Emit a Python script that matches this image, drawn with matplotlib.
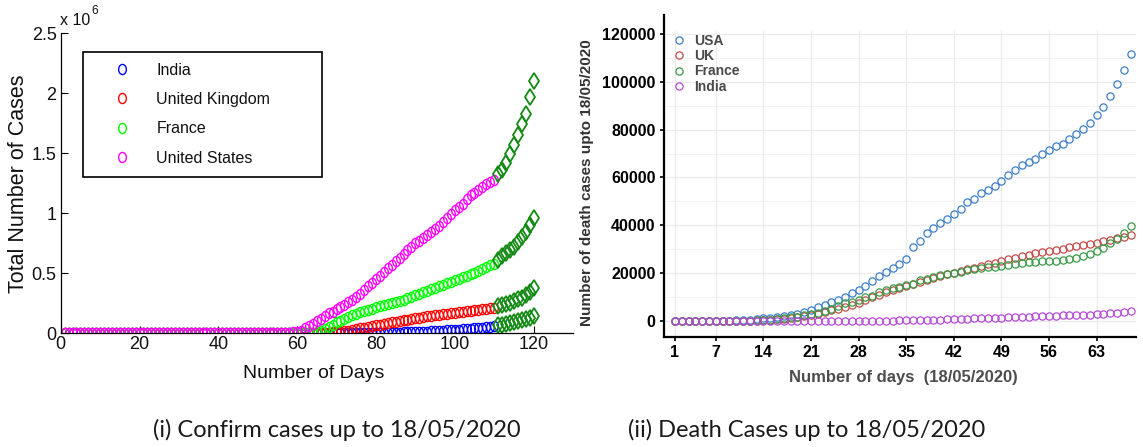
import numpy as np
import matplotlib
matplotlib.use("Agg")
import matplotlib.pyplot as plt
from matplotlib.path import Path
from matplotlib.transforms import Affine2D

# ---- left panel: confirmed cases (millions), days 1..110 observed, 111..120 predicted
days_obs = np.arange(1, 111)
days_pred = np.arange(111, 121)

india_obs = [
    0, 0, 0, 0, 0, 0, 0, 0, 0, 0,
    0, 0, 0, 0, 0, 0, 0, 0, 0, 0,
    0, 0, 0, 0, 0, 0, 0, 0, 0, 0,
    0, 0, 0, 0, 0, 0, 0, 0, 0, 0,
    0, 0, 0, 0, 0, 0, 0, 0, 0, 0,
    0, 0, 0, 0, 0, 0, 0, 0, 0, 0,
    0, 0, 0, 0, 0, 0, 0, 0, 0, 0,
    0, 0, 0, 0, 0, 0.001, 0.001, 0.002, 0.002, 0.002,
    0.003, 0.003, 0.004, 0.004, 0.005, 0.006, 0.007, 0.008, 0.009, 0.010,
    0.011, 0.013, 0.014, 0.016, 0.018, 0.020, 0.022, 0.024, 0.026, 0.028,
    0.030, 0.032, 0.035, 0.037, 0.040, 0.043, 0.046, 0.050, 0.054, 0.058,
]
uk_obs = [
    0, 0, 0, 0, 0, 0, 0, 0, 0, 0,
    0, 0, 0, 0, 0, 0, 0, 0, 0, 0,
    0, 0, 0, 0, 0, 0, 0, 0, 0, 0,
    0, 0, 0, 0, 0, 0, 0, 0, 0, 0,
    0, 0, 0, 0, 0, 0, 0, 0, 0, 0,
    0, 0, 0, 0, 0, 0, 0, 0, 0, 0,
    0, 0, 0, 0.001, 0.002, 0.003, 0.004, 0.005, 0.007, 0.010,
    0.014, 0.018, 0.023, 0.028, 0.034, 0.040, 0.046, 0.052, 0.058, 0.065,
    0.072, 0.078, 0.084, 0.090, 0.096, 0.102, 0.108, 0.114, 0.120, 0.125,
    0.130, 0.135, 0.140, 0.145, 0.150, 0.154, 0.158, 0.163, 0.168, 0.172,
    0.176, 0.180, 0.184, 0.188, 0.192, 0.196, 0.200, 0.204, 0.208, 0.212,
]
france_obs = [
    0, 0, 0, 0, 0, 0, 0, 0, 0, 0,
    0, 0, 0, 0, 0, 0, 0, 0, 0, 0,
    0, 0, 0, 0, 0, 0, 0, 0, 0, 0,
    0, 0, 0, 0, 0, 0, 0, 0, 0, 0,
    0, 0, 0, 0, 0, 0, 0, 0, 0, 0,
    0, 0, 0, 0, 0, 0, 0, 0, 0, 0,
    0.001, 0.002, 0.003, 0.005, 0.010, 0.020, 0.035, 0.050, 0.070, 0.090,
    0.105, 0.120, 0.135, 0.150, 0.162, 0.175, 0.185, 0.195, 0.205, 0.215,
    0.225, 0.235, 0.245, 0.255, 0.262, 0.270, 0.280, 0.290, 0.302, 0.315,
    0.327, 0.340, 0.352, 0.365, 0.377, 0.390, 0.402, 0.415, 0.427, 0.440,
    0.452, 0.465, 0.477, 0.490, 0.505, 0.520, 0.535, 0.550, 0.565, 0.580,
]
usa_obs = [
    0, 0, 0, 0, 0, 0, 0, 0, 0, 0,
    0, 0, 0, 0, 0, 0, 0, 0, 0, 0,
    0, 0, 0, 0, 0, 0, 0, 0, 0, 0,
    0, 0, 0, 0, 0, 0, 0, 0, 0, 0,
    0, 0, 0, 0, 0, 0, 0, 0, 0, 0,
    0, 0, 0, 0.001, 0.001, 0.002, 0.003, 0.005, 0.007, 0.010,
    0.020, 0.040, 0.060, 0.080, 0.100, 0.120, 0.140, 0.165, 0.180, 0.200,
    0.220, 0.235, 0.260, 0.280, 0.305, 0.330, 0.360, 0.390, 0.420, 0.450,
    0.480, 0.510, 0.540, 0.570, 0.600, 0.630, 0.660, 0.690, 0.720, 0.750,
    0.770, 0.790, 0.815, 0.840, 0.865, 0.890, 0.925, 0.960, 0.995, 1.030,
    1.055, 1.080, 1.115, 1.150, 1.170, 1.190, 1.215, 1.240, 1.260, 1.280,
]
india_pred = [0.067, 0.073, 0.079, 0.085, 0.092, 0.099, 0.107, 0.116, 0.127, 0.140]
uk_pred = [0.225, 0.235, 0.245, 0.255, 0.268, 0.282, 0.298, 0.318, 0.343, 0.375]
france_pred = [0.610, 0.640, 0.667, 0.694, 0.720, 0.760, 0.800, 0.847, 0.900, 0.958]
usa_pred = [1.33, 1.36, 1.42, 1.49, 1.57, 1.65, 1.74, 1.83, 1.97, 2.10]

left_names = ["India", "United Kingdom", "France", "United States"]
left_colors = ["#0000ff", "#ff0000", "#00ff00", "#ff00ff"]
pred_color = "#138a13"

# ---- right panel: deaths (thousands), days 1..68
days_death = np.arange(1, 69)
usa_death = [
    0.05, 0.06, 0.08, 0.1, 0.15, 0.2, 0.25, 0.3, 0.4, 0.5,
    0.6, 0.8, 1.0, 1.3, 1.6, 1.9, 2.3, 2.7, 3.3, 4.0,
    4.8, 5.9, 6.9, 8.0, 9.1, 10.4, 11.8, 13.2, 14.6, 16.8,
    18.8, 20.6, 22.3, 23.8, 26.2, 31.1, 33.5, 37.0, 38.9, 40.9,
    42.7, 44.8, 46.8, 49.9, 51.1, 53.5, 54.6, 56.6, 58.4, 60.9,
    63.3, 65.4, 66.4, 67.8, 69.6, 71.3, 73.1, 74.1, 75.9, 78.0,
    80.1, 82.6, 86.0, 89.5, 93.8, 99.0, 104.6, 111.3,
]
uk_death = [
    0.0, 0.0, 0.0, 0.01, 0.01, 0.02, 0.03, 0.04, 0.1, 0.15,
    0.2, 0.3, 0.4, 0.5, 0.7, 0.9, 1.2, 1.5, 1.8, 2.3,
    2.8, 3.3, 3.9, 4.6, 5.4, 6.2, 7.0, 7.9, 8.9, 10.0,
    11.0, 12.1, 13.1, 14.0, 14.9, 15.6, 16.5, 17.3, 18.1, 18.9,
    19.6, 20.3, 21.0, 21.7, 22.4, 23.2, 23.9, 24.5, 25.2, 26.0,
    26.6, 27.3, 27.9, 28.4, 28.9, 29.4, 29.9, 30.4, 30.9, 31.4,
    31.9, 32.4, 32.8, 33.4, 34.0, 34.6, 35.2, 36.2,
]
france_death = [
    0.0, 0.0, 0.0, 0.01, 0.02, 0.03, 0.05, 0.08, 0.15, 0.2,
    0.25, 0.35, 0.45, 0.6, 0.8, 1.0, 1.3, 1.7, 2.0, 2.5,
    3.0, 3.6, 4.4, 5.3, 6.5, 7.5, 8.1, 8.9, 10.3, 10.8,
    12.2, 13.2, 13.8, 14.4, 15.0, 15.7, 17.2, 17.9, 18.7, 19.3,
    19.7, 20.3, 20.8, 21.3, 21.8, 22.2, 22.6, 22.9, 23.3, 23.6,
    24.0, 24.3, 24.6, 24.8, 25.0, 25.2, 25.4, 25.7, 26.0, 26.5,
    27.3, 28.2, 29.2, 30.5, 32.5, 34.5, 37.0, 39.6,
]
india_death = [
    0.0, 0.0, 0.0, 0.0, 0.0, 0.0, 0.0, 0.0, 0.0, 0.0,
    0.0, 0.0, 0.0, 0.0, 0.0, 0.0, 0.0, 0.0, 0.0, 0.0,
    0.03, 0.04, 0.05, 0.06, 0.08, 0.1, 0.12, 0.15, 0.2, 0.25,
    0.3, 0.35, 0.4, 0.45, 0.5, 0.55, 0.6, 0.65, 0.7, 0.8,
    0.9, 1.0, 1.1, 1.2, 1.25, 1.3, 1.4, 1.5, 1.6, 1.7,
    1.8, 1.9, 2.0, 2.1, 2.2, 2.3, 2.4, 2.5, 2.6, 2.7,
    2.8, 2.9, 3.0, 3.2, 3.4, 3.6, 3.9, 4.2,
]
right_names = ["USA", "UK", "France", "India"]
right_colors = ["#3d7fc6", "#c24c48", "#3a9a45", "#b34bd3"]
right_xticks = [1, 7, 14, 21, 28, 35, 42, 49, 56, 63]
right_yticks = [0, 20000, 40000, 60000, 80000, 100000, 120000]

arial = ["Liberation Sans", "DejaVu Sans"]

fig = plt.figure(figsize=(11.43, 4.47), dpi=100)

# ================= left panel =================
ax1 = fig.add_axes([0.0531, 0.2544, 0.4482, 0.6711])
ellipse = Path.unit_circle().transformed(Affine2D().scale(0.76, 1.0))

obs_series = [india_obs, uk_obs, france_obs, usa_obs]
for vals, name, col in zip(obs_series, left_names, left_colors):
    ax1.plot(days_obs, vals, linestyle="none", marker=ellipse, markersize=7.3,
             markerfacecolor="none", markeredgecolor=col, markeredgewidth=1.0,
             label=name)
for vals in [india_pred, uk_pred, france_pred, usa_pred]:
    ax1.plot(days_pred, vals, linestyle="none", marker="d", markersize=7.8,
             markerfacecolor="none", markeredgecolor=pred_color,
             markeredgewidth=1.3, label="_nolegend_")

ax1.set_xlim(0, 130)
ax1.set_ylim(0, 2.5)
ax1.set_xticks([0, 20, 40, 60, 80, 100, 120])
ax1.set_yticks([0, 0.5, 1, 1.5, 2, 2.5])
ax1.set_yticklabels(["0", "0.5", "1", "1.5", "2", "2.5"])
ax1.spines["top"].set_visible(False)
ax1.spines["right"].set_visible(False)
for s in ["left", "bottom"]:
    ax1.spines[s].set_linewidth(0.9)
ax1.tick_params(direction="in", length=5, width=0.8, labelsize=13)
ax1.tick_params(axis="x", pad=2)
ax1.tick_params(axis="y", pad=3)
for lab in ax1.get_xticklabels() + ax1.get_yticklabels():
    lab.set_family(arial)
    lab.set_color("#111111")

leg1 = ax1.legend(loc="upper left", bbox_to_anchor=(0.0441, 0.53, 0.4653, 0.4087),
                  mode="expand", prop={"family": arial, "size": 11.5},
                  handlelength=3.5, handletextpad=0.4, borderpad=0.68,
                  labelspacing=0.9, fancybox=False, framealpha=1,
                  edgecolor="black", borderaxespad=0)
leg1.get_frame().set_linewidth(1.2)
for t in leg1.get_texts():
    t.set_color("#111111")

# "x 10^6" multiplier above the y axis
mult = fig.text(60 / 1143, 1 - 25 / 447, "x 10", family=arial, fontsize=11.5,
                ha="left", va="baseline", color="#111111")
renderer = fig.canvas.get_renderer()
bb = mult.get_window_extent(renderer=renderer)
fig.text((bb.x1 + 1) / 1143, 1 - 14 / 447, "6", family=arial, fontsize=8.5,
         ha="left", va="baseline", color="#111111")

fig.text(18.3 / 1143, 1 - 183.5 / 447, "Total Number of Cases", family=arial,
         fontsize=15.5, rotation=90, ha="center", va="center", color="#111111")
fig.text(314 / 1143, 1 - 373 / 447, "Number of Days", family=arial,
         fontsize=14, ha="center", va="center", color="#111111")

# ================= right panel =================
ax2 = fig.add_axes([0.5809, 0.2468, 0.4134, 0.7196])
grid_top = 121500
for yv in [10000, 30000, 50000, 70000, 90000, 110000]:
    ax2.hlines(yv, -0.62, 68.87, color="#f3f3f3", lw=0.7, zorder=0)
for yv in right_yticks:
    ax2.hlines(yv, -0.62, 68.87, color="#ebebeb", lw=0.9, zorder=0)
ax2.vlines(right_xticks, -6333, grid_top, color="#ebebeb", lw=0.9, zorder=0)

death_series = [usa_death, uk_death, france_death, india_death]
for vals, name, col in zip(death_series, right_names, right_colors):
    ax2.plot(days_death, np.array(vals) * 1000, linestyle="none", marker="o",
             markersize=5.2, markerfacecolor="none", markeredgecolor=col,
             markeredgewidth=0.9, label=name, zorder=3)

ax2.set_xlim(-0.62, 68.87)
ax2.set_ylim(-6333, 127708)
ax2.set_xticks(right_xticks)
ax2.set_yticks(right_yticks)
ax2.spines["top"].set_visible(False)
ax2.spines["right"].set_visible(False)
for s in ["left", "bottom"]:
    ax2.spines[s].set_linewidth(1.6)
ax2.tick_params(direction="out", length=3, width=1.2, labelsize=11.5, pad=3,
                colors="black")
for lab in ax2.get_xticklabels() + ax2.get_yticklabels():
    lab.set_family(arial)
    lab.set_fontweight("bold")

leg2 = ax2.legend(loc="upper left", bbox_to_anchor=(0.0148, 0.941),
                  frameon=False, prop={"family": arial, "size": 10, "weight": "bold"},
                  handlelength=1.2, handletextpad=0.5, borderpad=0,
                  labelspacing=0.09, borderaxespad=0)
for t in leg2.get_texts():
    t.set_color("#4a4a4a")

fig.text(587 / 1143, 1 - 182.5 / 447, "Number of death cases upto 18/05/2020",
         family=arial, fontsize=11, fontweight="bold", rotation=90,
         ha="center", va="center", color="#333333")
fig.text(903 / 1143, 1 - 377.3 / 447, "Number of days  (18/05/2020)",
         family=arial, fontsize=12, fontweight="bold", ha="center",
         va="center", color="#4d4d4d")

# ================= captions =================
cap = ["Lato", "DejaVu Sans"]
fig.text(337 / 1143, 1 - 430 / 447, "(i) Confirm cases up to 18/05/2020",
         family=cap, fontsize=17, ha="center", va="center", color="#1a1a1a")
fig.text(807 / 1143, 1 - 430 / 447, "(ii) Death Cases up to 18/05/2020",
         family=cap, fontsize=17, ha="center", va="center", color="#1a1a1a")

fig.savefig("out.png", dpi=100)
